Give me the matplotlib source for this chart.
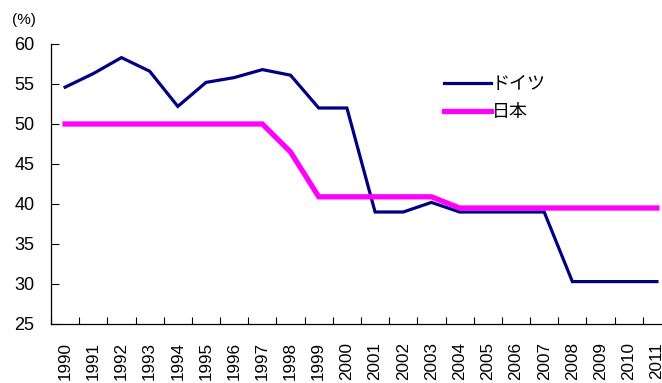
import matplotlib
matplotlib.use("Agg")
import matplotlib.pyplot as plt
import numpy as np
from matplotlib.ticker import FixedLocator

plt.rcParams['font.family'] = ['Liberation Sans', 'Noto Sans CJK JP', 'DejaVu Sans']

years = [str(y) for y in range(1990, 2012)]
germany = [54.6, 56.3, 58.3, 56.6, 52.2, 55.2, 55.8, 56.8, 56.1, 52.0, 52.0,
           39.0, 39.0, 40.2, 39.0, 39.0, 39.0, 39.0, 30.3, 30.3, 30.3, 30.3]
japan = [50.0, 50.0, 50.0, 50.0, 50.0, 50.0, 50.0, 50.0, 46.5, 40.9, 40.9,
         40.9, 40.9, 40.9, 39.5, 39.5, 39.5, 39.5, 39.5, 39.5, 39.5, 39.5]
yticks = [25, 30, 35, 40, 45, 50, 55, 60]

W, H = 662, 383
fig = plt.figure(figsize=(W / 100, H / 100), dpi=100)
# axes runs slightly past the right edge of the picture, as in the original
ax = fig.add_axes([51 / W, (H - 324) / H, 620 / W, 280 / H])

x = np.arange(len(years))
ax.plot(x, germany, color="#000080", lw=2.3, label="ドイツ", solid_joinstyle="miter")
ax.plot(x, japan, color="#FF00FF", lw=3.8, label="日本", solid_joinstyle="miter")

ax.set_xlim(-0.5, len(years) - 0.5)
ax.set_ylim(25, 60)
ax.set_yticks(yticks)
ax.tick_params(axis="y", direction="in", length=6, width=0.8, labelsize=13, pad=12)

ax.set_xticks(x)
ax.set_xticklabels(years, rotation=90, fontsize=12.3)
ax.xaxis.set_minor_locator(FixedLocator(np.arange(-0.5, len(years), 1.0)))
ax.tick_params(axis="x", which="major", length=0, pad=13)
ax.tick_params(axis="x", which="minor", direction="in", length=5, width=0.8)

for s in ("top", "right"):
    ax.spines[s].set_visible(False)
for s in ("left", "bottom"):
    ax.spines[s].set_linewidth(0.9)

fig.text(12 / W, 1 - 20 / H, "(%)", fontsize=11, va="center", ha="left")

leg = ax.legend(loc="upper left", bbox_to_anchor=((444 - 51) / 620, (324 - 75) / 280),
                frameon=False, handlelength=2.6, handletextpad=0.05,
                labelspacing=0.55, borderaxespad=0, borderpad=0,
                prop={"family": ["Noto Sans CJK JP", "DejaVu Sans"], "size": 13})

fig.savefig("out.png", dpi=100)
